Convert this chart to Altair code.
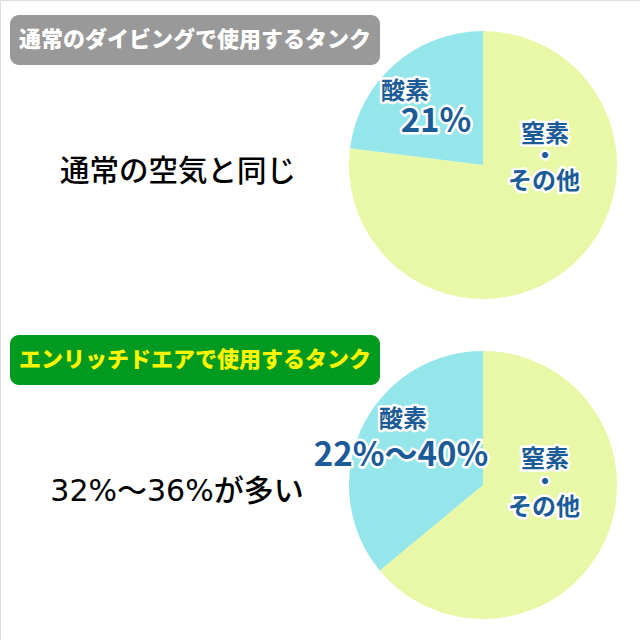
import altair as alt
import pandas as pd

# ---- data ----
categories = ["窒素・その他", "酸素"]
normal_pct = [77, 23]      # slice drawn in the picture (labelled 21%)
nitrox_pct = [64, 36]
slice_colors = ["#E9F8A6", "#95E6EA"]

panel_titles = ["通常のダイビングで使用するタンク", "エンリッチドエアで使用するタンク"]
panel_notes = ["通常の空気と同じ", "32%～36%が多い"]
oxygen_name = "酸素"
oxygen_labels = ["21%", "22%～40%"]
nitrogen_lines = ["窒素", "・", "その他"]

JP = "Noto Sans CJK JP"
NOTE_FONT = "DejaVu Sans, Noto Sans CJK JP"
LABEL_BLUE = "#1B5B97"

def one(val):
    return pd.DataFrame({"t": [val]})

def pie(values, cy):
    df = pd.DataFrame({"cat": categories, "pct": values, "ord": [0, 1]})
    return alt.Chart(df).mark_arc(outerRadius=134).encode(
        theta=alt.Theta("pct:Q", stack=True, scale=alt.Scale(domain=[0, 100])),
        color=alt.Color("cat:N", scale=alt.Scale(domain=categories, range=slice_colors), legend=None),
        order=alt.Order("ord:Q"),
        x=alt.value(483),
        y=alt.value(cy),
    )

def box(y0, y1, color):
    return alt.Chart(one(0)).mark_rect(cornerRadius=9, color=color).encode(
        x=alt.value(10), x2=alt.value(380), y=alt.value(y0), y2=alt.value(y1)
    )

def txt(val, x, y, size, color, weight="bold", halo=False, font=JP):
    layers = []
    if halo:
        layers.append(alt.Chart(one(val)).mark_text(
            font=font, fontSize=size, fontWeight=weight, fill="white", stroke="white",
            strokeWidth=5, strokeJoin="round", align="center", baseline="middle"
        ).encode(text="t:N", x=alt.value(x), y=alt.value(y)))
    layers.append(alt.Chart(one(val)).mark_text(
        font=font, fontSize=size, fontWeight=weight, color=color,
        align="center", baseline="middle"
    ).encode(text="t:N", x=alt.value(x), y=alt.value(y)))
    return layers

layers = [
    pie(normal_pct, 165),
    pie(nitrox_pct, 485),
    box(15, 65, "#999999"),
    box(335, 385, "#009A20"),
]
layers += txt(panel_titles[0], 195, 40, 22, "white", weight=900)
layers += txt(panel_titles[1], 195, 360, 22, "#FFF500", weight=900)
layers += txt(panel_notes[0], 178, 172, 29.5, "black", weight=500)
layers += txt(panel_notes[1], 177, 492, 30, "black", weight=500, font=NOTE_FONT)

# top pie labels
layers += txt(oxygen_name, 405, 92, 24, LABEL_BLUE, halo=True)
layers += txt(oxygen_labels[0], 436, 122, 33, LABEL_BLUE, halo=True)
layers += txt(nitrogen_lines[0], 545, 135, 24, LABEL_BLUE, halo=True)
layers += txt(nitrogen_lines[1], 545, 157, 24, LABEL_BLUE, halo=True)
layers += txt(nitrogen_lines[2], 544, 182, 24, LABEL_BLUE, halo=True)

# bottom pie labels
layers += txt(oxygen_name, 403, 420, 24, LABEL_BLUE, halo=True)
layers += txt(oxygen_labels[1], 401, 456, 33, LABEL_BLUE, halo=True)
layers += txt(nitrogen_lines[0], 545, 460, 24, LABEL_BLUE, halo=True)
layers += txt(nitrogen_lines[1], 545, 483, 24, LABEL_BLUE, halo=True)
layers += txt(nitrogen_lines[2], 544, 508, 24, LABEL_BLUE, halo=True)

chart = alt.layer(*layers).properties(
    width=640, height=640, autosize=alt.AutoSizeParams(type="none"), padding=0
).configure_view(stroke=None).configure(background="white")

chart.save("out.html", embed_options={"renderer": "svg", "actions": False})
